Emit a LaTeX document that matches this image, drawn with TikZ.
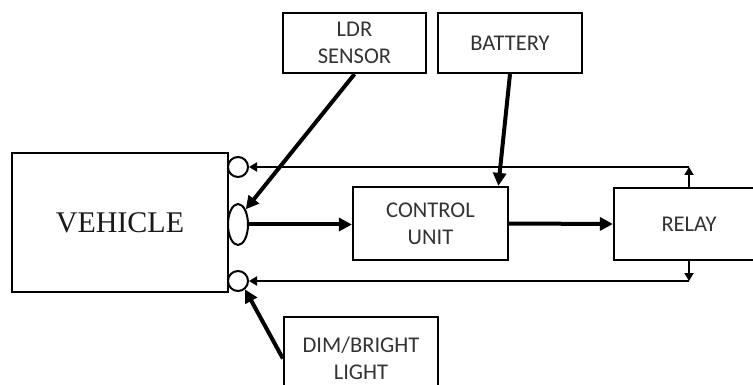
\documentclass[tikz,border=0pt]{standalone}
\usepackage{fontspec}
\setmainfont{Carlito}
\newfontfamily\serifv{Liberation Serif}
\usetikzlibrary{arrows.meta,shapes.geometric}
\definecolor{txt}{HTML}{333333}
\begin{document}
\begin{tikzpicture}[x=1pt,y=-1pt,
  box/.style={draw=black,line width=2.2pt,rectangle,inner sep=0pt,align=center,text=txt,
    font=\fontsize{22.5}{27}\selectfont},
  port/.style={draw=black,line width=2pt,inner sep=0pt,fill=white},
  bigarrow/.style={line width=4pt,-{Triangle[length=13pt,width=13pt]}},
  fbarrow/.style={line width=2.8pt,-{Triangle[length=8pt,width=9pt]}}]
\useasboundingbox (0,0) rectangle (753,385);
\node[box,minimum width=216pt,minimum height=139pt,text=black!90,font=\serifv\fontsize{30}{30}\selectfont] (veh) at (120,222.5) {VEHICLE};
\node[box,minimum width=143pt,minimum height=60pt] (ldr) at (354.5,43) {LDR\\SENSOR};
\node[box,minimum width=144pt,minimum height=60pt] (bat) at (510,43) {BATTERY};
\node[box,minimum width=155pt,minimum height=73pt] (cu) at (430.5,223.5) {CONTROL\\UNIT};
\node[box,minimum width=150pt,minimum height=72pt] (relay) at (689,224) {RELAY};
\node[box,minimum width=154pt,minimum height=83pt] (dim) at (361,358.5) {DIM/BRIGHT\\LIGHT};
\node[port,circle,minimum size=20pt] (c1) at (238,167) {};
\node[port,ellipse,minimum width=20pt,minimum height=41pt] (el) at (238,224.5) {};
\node[port,circle,minimum size=20pt] (c2) at (238,281) {};
% connectors
\draw[bigarrow] (ldr.south) -- (el.north east);
\draw[bigarrow] (bat.south) -- (cu.29);
\draw[bigarrow] (el.east) -- (el.east -| cu.west);
\draw[bigarrow] (cu.east) -- (relay.west);
\draw[bigarrow] (dim.west) -- (c2.-50);
\draw[fbarrow] (relay.north) -- (relay.north |- c1);
\draw[fbarrow] (relay.north |- c1) -- (c1.east);
\draw[fbarrow] (relay.south) -- (relay.south |- c2);
\draw[fbarrow] (relay.south |- c2) -- (c2.east);
\end{tikzpicture}
\end{document}
